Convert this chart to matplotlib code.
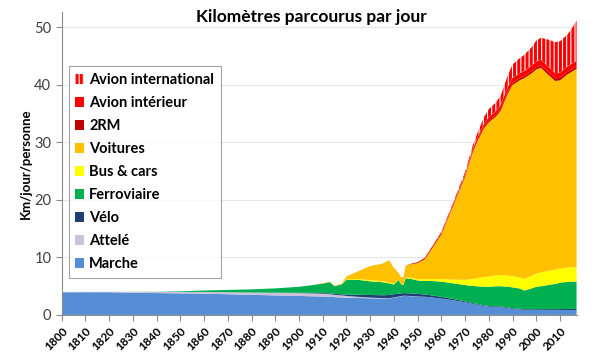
import numpy as np
import matplotlib
matplotlib.use("Agg")
import matplotlib.pyplot as plt

plt.rcParams['font.family'] = ['Lato', 'DejaVu Sans']
plt.rcParams['hatch.linewidth'] = 2.2
plt.rcParams['hatch.color'] = '#ff0000'

years = [1800, 1820, 1840, 1850, 1860, 1870, 1880, 1890, 1900, 1905,
         1910, 1913, 1915, 1918, 1920, 1925, 1930, 1935, 1938, 1940,
         1942, 1943, 1944, 1945, 1948, 1950, 1953, 1956, 1960, 1965,
         1970, 1973, 1975, 1978, 1980, 1983, 1985, 1988, 1990, 1993,
         1995, 1998, 2000, 2002, 2005, 2008, 2010, 2013, 2015, 2017]

marche = [3.95, 3.95, 3.8, 3.75, 3.7, 3.6, 3.5, 3.4, 3.3, 3.25,
          3.2, 3.15, 3.1, 3.05, 3.0, 2.95, 2.9, 2.85, 2.85, 3.0,
          3.15, 3.2, 3.3, 3.3, 3.25, 3.2, 3.15, 3.05, 2.85, 2.55,
          2.2, 1.95, 1.8, 1.55, 1.45, 1.4, 1.35, 1.2, 1.05, 0.95,
          0.9, 0.9, 0.88, 0.87, 0.86, 0.85, 0.85, 0.85, 0.85, 0.85]
attele = [0.05, 0.08, 0.2, 0.25, 0.3, 0.35, 0.4, 0.45, 0.5, 0.5,
          0.5, 0.45, 0.4, 0.35, 0.3, 0.2, 0.12, 0.08, 0.06, 0.05,
          0.05, 0.05, 0.04, 0.04, 0.03, 0.02, 0.01, 0, 0, 0,
          0, 0, 0, 0, 0, 0, 0, 0, 0, 0,
          0, 0, 0, 0, 0, 0, 0, 0, 0, 0]
velo = [0, 0, 0, 0, 0, 0, 0, 0.02, 0.05, 0.08,
        0.12, 0.15, 0.15, 0.2, 0.25, 0.35, 0.45, 0.5, 0.55, 0.55,
        0.5, 0.5, 0.45, 0.45, 0.45, 0.45, 0.4, 0.35, 0.3, 0.22,
        0.16, 0.14, 0.12, 0.12, 0.12, 0.12, 0.12, 0.12, 0.12, 0.12,
        0.12, 0.12, 0.13, 0.14, 0.15, 0.16, 0.17, 0.18, 0.19, 0.2]
ferroviaire = [0, 0, 0.03, 0.1, 0.25, 0.4, 0.55, 0.75, 1.05, 1.32,
               1.63, 1.95, 1.35, 1.7, 2.55, 2.6, 2.38, 2.27, 2.04, 1.7,
               2.4, 1.65, 1.41, 2.61, 2.47, 2.33, 2.34, 2.5, 2.65, 2.73,
               2.84, 2.96, 3.08, 3.23, 3.33, 3.48, 3.53, 3.58, 3.63, 3.53,
               3.23, 3.58, 3.89, 3.99, 4.19, 4.39, 4.58, 4.72, 4.76, 4.75]
bus = [0, 0, 0, 0, 0, 0, 0, 0, 0, 0,
       0, 0, 0, 0, 0.1, 0.15, 0.2, 0.2, 0.2, 0.15,
       0.1, 0.1, 0.1, 0.15, 0.2, 0.25, 0.3, 0.35, 0.45, 0.65,
       0.9, 1.2, 1.4, 1.7, 1.8, 1.9, 1.95, 1.95, 1.95, 1.95,
       2.0, 2.2, 2.3, 2.4, 2.45, 2.5, 2.5, 2.5, 2.5, 2.5]
voitures = [0, 0, 0, 0, 0, 0, 0, 0, 0, 0,
            0.05, 0.1, 0.05, 0.15, 0.5, 1.35, 2.45, 3.0, 3.8, 2.75,
            1.1, 1.1, 1.2, 2.05, 2.5, 2.75, 3.5, 5.25, 7.75, 12.85,
            17.9, 21.75, 23.6, 25.9, 26.8, 27.6, 28.55, 31.65, 33.25, 34.25,
            34.95, 35.2, 35.5, 35.6, 34.15, 32.8, 32.7, 33.55, 34.0, 34.5]
deux_roues = [0, 0, 0, 0, 0, 0, 0, 0, 0, 0,
              0, 0, 0, 0, 0, 0, 0, 0, 0, 0,
              0, 0, 0, 0, 0.1, 0.15, 0.2, 0.25, 0.25, 0.2,
              0.2, 0.22, 0.25, 0.28, 0.3, 0.32, 0.35, 0.35, 0.35, 0.35,
              0.35, 0.38, 0.4, 0.42, 0.45, 0.45, 0.45, 0.45, 0.42, 0.4]
avion_int = [0, 0, 0, 0, 0, 0, 0, 0, 0, 0,
             0, 0, 0, 0, 0, 0, 0, 0, 0, 0,
             0, 0, 0, 0, 0, 0.02, 0.03, 0.05, 0.1, 0.15,
             0.3, 0.4, 0.45, 0.55, 0.6, 0.65, 0.7, 0.8, 0.9, 0.9,
             0.9, 0.95, 1.0, 1.0, 0.95, 0.9, 0.9, 0.95, 1.0, 1.0]
avion_intl = [0, 0, 0, 0, 0, 0, 0, 0, 0, 0,
              0, 0, 0, 0, 0, 0, 0, 0, 0, 0,
              0, 0, 0, 0, 0, 0, 0.03, 0.08, 0.15, 0.25,
              0.35, 0.5, 0.7, 1.1, 1.4, 1.5, 1.6, 2.0, 2.3, 2.6,
              2.8, 3.2, 3.6, 3.8, 4.7, 5.4, 5.45, 5.5, 6.1, 7.0]

labels = ['Marche', 'Attelé', 'Vélo', 'Ferroviaire', 'Bus & cars',
          'Voitures', '2RM', 'Avion intérieur', 'Avion international']
colors = ['#558ed5', '#ccc0da', '#1f3f73', '#00b050', '#ffff00',
          '#ffc000', '#c00000', '#ff0000', '#ffffff']

fig = plt.figure(figsize=(6.05, 3.62), dpi=100)
ax = fig.add_axes([0.102, 0.13, 0.851, 0.837])

polys = ax.stackplot(years, marche, attele, velo, ferroviaire, bus, voitures,
                     deux_roues, avion_int, avion_intl,
                     labels=labels, colors=colors, linewidth=0)
polys[-1].set_hatch('||||')
polys[-1].set_edgecolor('#ff0000')
polys[-1].set_linewidth(0)

ax.set_xlim(1800, 2017)
ax.set_ylim(0, 52.7)
ax.set_xticks(range(1800, 2011, 10))
ax.set_yticks(range(0, 51, 10))
ax.grid(axis='y', color='#e6e6e6', linewidth=0.8)
ax.set_axisbelow(True)
for s in ['top', 'right']:
    ax.spines[s].set_visible(False)
for s in ['left', 'bottom']:
    ax.spines[s].set_color('#8c8c8c')
ax.tick_params(axis='both', colors='#8c8c8c', length=4, width=0.8)
ax.tick_params(axis='y', labelsize=10.5, labelcolor='#404040')
ax.tick_params(axis='x', labelsize=8.5, labelcolor='black')
for lbl in ax.get_xticklabels():
    lbl.set_rotation(45)
    lbl.set_ha('right')
    lbl.set_rotation_mode('anchor')
    lbl.set_fontweight('bold')

ax.set_ylabel('Km/jour/personne', fontsize=9.5, fontweight='bold', labelpad=2)
fig.text(0.515, 0.953, 'Kilomètres parcourus par jour', ha='center',
         va='center', fontsize=12.5, fontweight='bold')

h, l = ax.get_legend_handles_labels()
leg = ax.legend(h[::-1], l[::-1], loc='upper left',
                bbox_to_anchor=(0.014, 0.82), frameon=True, fancybox=False,
                edgecolor='#8c8c8c', fontsize=10.5, handlelength=0.55,
                handleheight=0.7, handletextpad=0.4, labelspacing=0.62,
                borderpad=0.45, borderaxespad=0)
leg.get_frame().set_linewidth(0.8)
for t in leg.get_texts():
    t.set_fontweight('bold')

fig.savefig('out.png', dpi=100)
